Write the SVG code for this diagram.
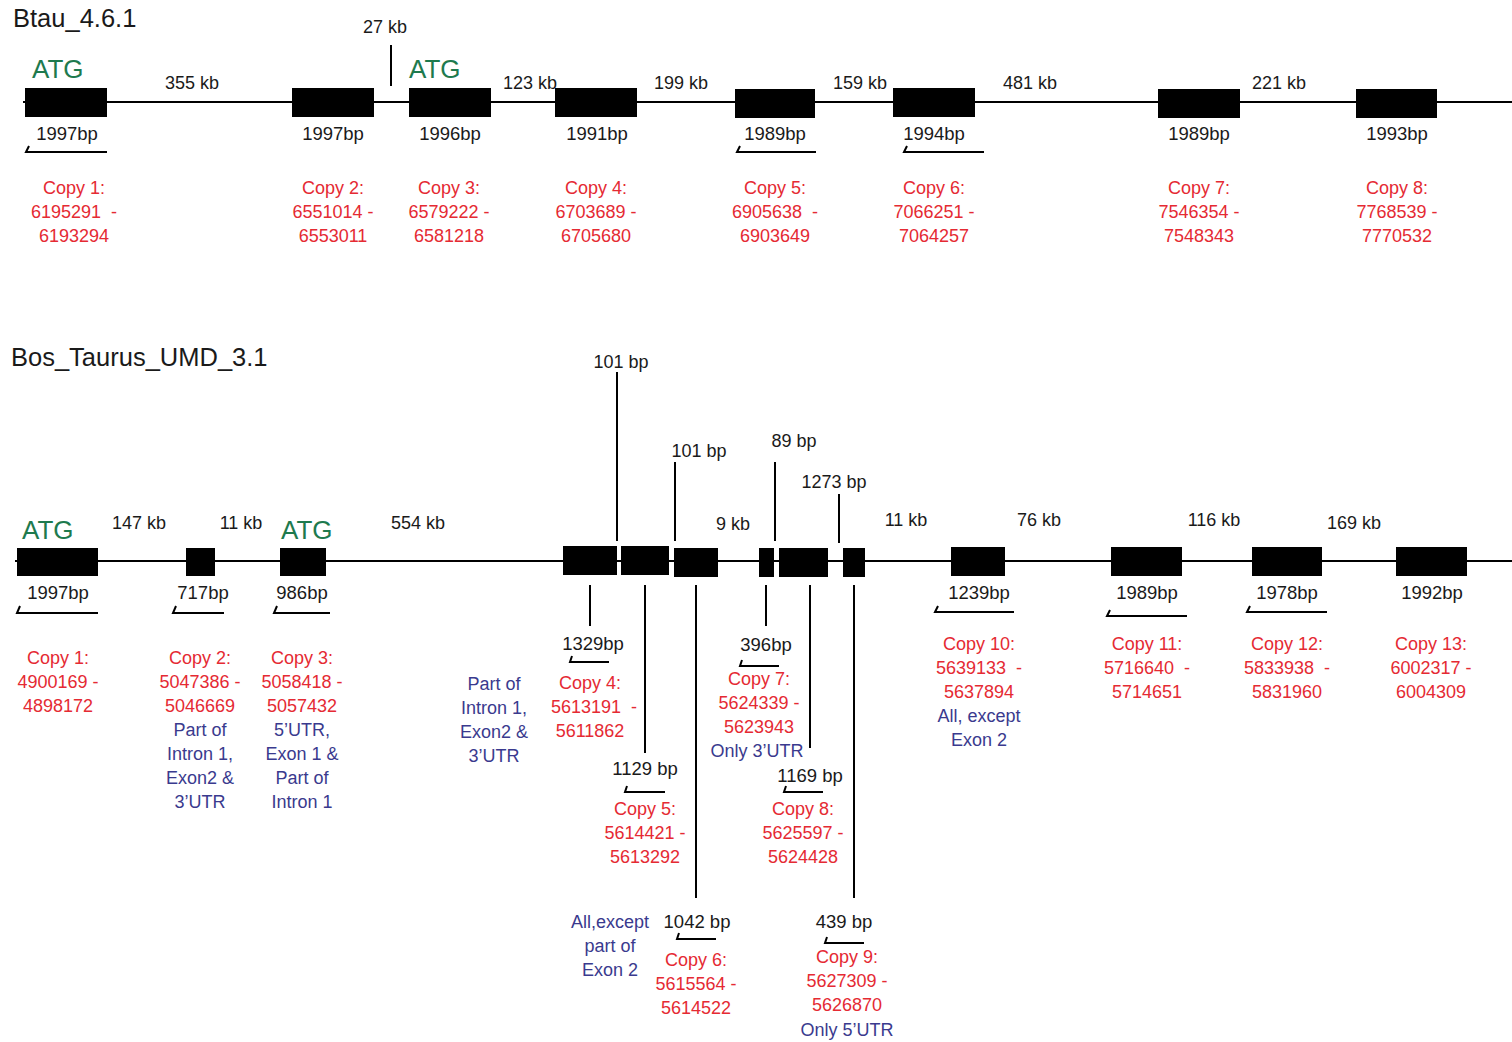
<svg xmlns="http://www.w3.org/2000/svg" width="1512" height="1042" viewBox="0 0 1512 1042">
<style>
text{font-family:"Liberation Sans",Arial,sans-serif;}
.t{font-size:25.5px;fill:#1a1a1a}
.atg{font-size:26px;fill:#1e7a4e}
.k{font-size:18px;fill:#1a1a1a}
.k2{font-size:18px;fill:#1a1a1a;text-anchor:middle}
.bp{font-size:18.5px;fill:#1a1a1a;text-anchor:middle}
.r{font-size:18px;fill:#e52a33;text-anchor:middle}
.b{font-size:18px;fill:#3a3a8e;text-anchor:middle}
.box{fill:#000}
.ln{stroke:#000;stroke-width:2;fill:none}
.br{stroke:#000;stroke-width:2;fill:none}
</style>
<rect width="1512" height="1042" fill="#fff"/>
<g id="connectors">
<line class="ln" x1="23" y1="102" x2="1512" y2="102"/>
<line class="ln" x1="391" y1="45" x2="391" y2="86"/>
<line class="ln" x1="15" y1="561" x2="1512" y2="561"/>
<line class="ln" x1="617" y1="372" x2="617" y2="541"/>
<line class="ln" x1="675" y1="462" x2="675" y2="541"/>
<line class="ln" x1="775" y1="462" x2="775" y2="541"/>
<line class="ln" x1="839" y1="494" x2="839" y2="543"/>
<line class="ln" x1="590" y1="585" x2="590" y2="626"/>
<line class="ln" x1="645" y1="585" x2="645" y2="753"/>
<line class="ln" x1="696" y1="585" x2="696" y2="898"/>
<line class="ln" x1="766" y1="585" x2="766" y2="626"/>
<line class="ln" x1="810" y1="585" x2="810" y2="748"/>
<line class="ln" x1="854" y1="585" x2="854" y2="898"/>
<text class="k2" x="192" y="89">355 kb</text>
<text class="k2" x="385" y="33">27 kb</text>
<text class="k2" x="530" y="89">123 kb</text>
<text class="k2" x="681" y="89">199 kb</text>
<text class="k2" x="860" y="89">159 kb</text>
<text class="k2" x="1030" y="89">481 kb</text>
<text class="k2" x="1279" y="89">221 kb</text>
<text class="k2" x="139" y="529">147 kb</text>
<text class="k2" x="241" y="529">11 kb</text>
<text class="k2" x="418" y="529">554 kb</text>
<text class="k2" x="733" y="530">9 kb</text>
<text class="k2" x="906" y="526">11 kb</text>
<text class="k2" x="1039" y="526">76 kb</text>
<text class="k2" x="1214" y="526">116 kb</text>
<text class="k2" x="1354" y="529">169 kb</text>
<text class="k2" x="621" y="368">101 bp</text>
<text class="k2" x="699" y="457">101 bp</text>
<text class="k2" x="794" y="447">89 bp</text>
<text class="k2" x="834" y="488">1273 bp</text>
</g>
<g id="titles">
<text class="t" x="13" y="27">Btau_4.6.1</text>
<text class="t" x="11" y="366">Bos_Taurus_UMD_3.1</text>
</g>
<!-- Btau_4.6.1 -->
<g id="top-copy1">
<text class="atg" x="32" y="78">ATG</text>
<rect class="box" x="25" y="88" width="82" height="29"/>
<text class="bp" x="67" y="140">1997bp</text>
<path class="br" d="M29,146 L26,152 L107,152"/>
<text class="r" x="74" y="194">Copy 1:</text>
<text class="r" x="74" y="218" xml:space="preserve">6195291  -</text>
<text class="r" x="74" y="242">6193294</text>
</g>
<g id="top-copy2">
<rect class="box" x="292" y="88" width="82" height="29"/>
<text class="bp" x="333" y="140">1997bp</text>
<text class="r" x="333" y="194">Copy 2:</text>
<text class="r" x="333" y="218">6551014 -</text>
<text class="r" x="333" y="242">6553011</text>
</g>
<g id="top-copy3">
<text class="atg" x="409" y="78">ATG</text>
<rect class="box" x="409" y="88" width="82" height="29"/>
<text class="bp" x="450" y="140">1996bp</text>
<text class="r" x="449" y="194">Copy 3:</text>
<text class="r" x="449" y="218">6579222 -</text>
<text class="r" x="449" y="242">6581218</text>
</g>
<g id="top-copy4">
<rect class="box" x="555" y="88" width="82" height="29"/>
<text class="bp" x="597" y="140">1991bp</text>
<text class="r" x="596" y="194">Copy 4:</text>
<text class="r" x="596" y="218">6703689 -</text>
<text class="r" x="596" y="242">6705680</text>
</g>
<g id="top-copy5">
<rect class="box" x="735" y="89" width="80" height="29"/>
<text class="bp" x="775" y="140">1989bp</text>
<path class="br" d="M740,146 L737,152 L816,152"/>
<text class="r" x="775" y="194" xml:space="preserve">Copy 5:</text>
<text class="r" x="775" y="218" xml:space="preserve">6905638  -</text>
<text class="r" x="775" y="242">6903649</text>
</g>
<g id="top-copy6">
<rect class="box" x="893" y="88" width="82" height="29"/>
<text class="bp" x="934" y="140">1994bp</text>
<path class="br" d="M907,146 L904,152 L984,152"/>
<text class="r" x="934" y="194">Copy 6:</text>
<text class="r" x="934" y="218">7066251 -</text>
<text class="r" x="934" y="242">7064257</text>
</g>
<g id="top-copy7">
<rect class="box" x="1158" y="89" width="82" height="29"/>
<text class="bp" x="1199" y="140">1989bp</text>
<text class="r" x="1199" y="194">Copy 7:</text>
<text class="r" x="1199" y="218">7546354 -</text>
<text class="r" x="1199" y="242">7548343</text>
</g>
<g id="top-copy8">
<rect class="box" x="1356" y="89" width="81" height="29"/>
<text class="bp" x="1397" y="140">1993bp</text>
<text class="r" x="1397" y="194">Copy 8:</text>
<text class="r" x="1397" y="218">7768539 -</text>
<text class="r" x="1397" y="242">7770532</text>
</g>
<!-- Bos_Taurus_UMD_3.1 -->
<g id="bot-copy1">
<text class="atg" x="22" y="539">ATG</text>
<rect class="box" x="17" y="548" width="81" height="28"/>
<text class="bp" x="58" y="599">1997bp</text>
<path class="br" d="M20,606 L17,613 L98,613"/>
<text class="r" x="58" y="664">Copy 1:</text>
<text class="r" x="58" y="688">4900169 -</text>
<text class="r" x="58" y="712">4898172</text>
</g>
<g id="bot-copy2">
<rect class="box" x="186" y="548" width="29" height="28"/>
<text class="bp" x="203" y="599">717bp</text>
<path class="br" d="M176,606 L173,613 L224,613"/>
<text class="r" x="200" y="664">Copy 2:</text>
<text class="r" x="200" y="688">5047386 -</text>
<text class="r" x="200" y="712">5046669</text>
<text class="b" x="200" y="736">Part of</text>
<text class="b" x="200" y="760">Intron 1,</text>
<text class="b" x="200" y="784">Exon2 &amp;</text>
<text class="b" x="200" y="808">3’UTR</text>
</g>
<g id="bot-copy3">
<text class="atg" x="281" y="539">ATG</text>
<rect class="box" x="280" y="548" width="46" height="28"/>
<text class="bp" x="302" y="599">986bp</text>
<path class="br" d="M277,606 L274,613 L330,613"/>
<text class="r" x="302" y="664">Copy 3:</text>
<text class="r" x="302" y="688">5058418 -</text>
<text class="r" x="302" y="712">5057432</text>
<text class="b" x="302" y="736">5’UTR,</text>
<text class="b" x="302" y="760">Exon 1 &amp;</text>
<text class="b" x="302" y="784">Part of</text>
<text class="b" x="302" y="808">Intron 1</text>
</g>
<g id="bot-copy4">
<rect class="box" x="563" y="546" width="54" height="29"/>
<text class="bp" x="593" y="650">1329bp</text>
<path class="br" d="M572,656 L570,662 L609,662"/>
<text class="r" x="590" y="689">Copy 4:</text>
<text class="r" x="594" y="713" xml:space="preserve">5613191  -</text>
<text class="r" x="590" y="737">5611862</text>
<text class="b" x="494" y="690">Part of</text>
<text class="b" x="494" y="714">Intron 1,</text>
<text class="b" x="494" y="738">Exon2 &amp;</text>
<text class="b" x="494" y="762">3’UTR</text>
</g>
<g id="bot-copy5">
<rect class="box" x="621" y="546" width="48" height="29"/>
<text class="bp" x="645" y="775">1129 bp</text>
<path class="br" d="M627,786 L625,792 L665,792"/>
<text class="r" x="645" y="815">Copy 5:</text>
<text class="r" x="645" y="839">5614421 -</text>
<text class="r" x="645" y="863">5613292</text>
</g>
<g id="bot-copy6">
<rect class="box" x="674" y="548" width="44" height="29"/>
<text class="bp" x="697" y="928">1042 bp</text>
<path class="br" d="M679,933 L677,939 L716,939"/>
<text class="r" x="696" y="966">Copy 6:</text>
<text class="r" x="696" y="990">5615564 -</text>
<text class="r" x="696" y="1014">5614522</text>
<text class="b" x="610" y="928">All,except</text>
<text class="b" x="610" y="952">part of</text>
<text class="b" x="610" y="976">Exon 2</text>
</g>
<g id="bot-copy7">
<rect class="box" x="759" y="548" width="15" height="29"/>
<text class="bp" x="766" y="651">396bp</text>
<path class="br" d="M742,660 L740,666 L779,666"/>
<text class="r" x="759" y="685">Copy 7:</text>
<text class="r" x="759" y="709">5624339 -</text>
<text class="r" x="759" y="733">5623943</text>
<text class="b" x="757" y="757">Only 3’UTR</text>
</g>
<g id="bot-copy8">
<rect class="box" x="779" y="548" width="49" height="29"/>
<text class="bp" x="810" y="782">1169 bp</text>
<path class="br" d="M786,786 L784,792 L823,792"/>
<text class="r" x="803" y="815">Copy 8:</text>
<text class="r" x="803" y="839">5625597 -</text>
<text class="r" x="803" y="863">5624428</text>
</g>
<g id="bot-copy9">
<rect class="box" x="843" y="548" width="22" height="29"/>
<text class="bp" x="844" y="928">439 bp</text>
<path class="br" d="M827,937 L825,943 L864,943"/>
<text class="r" x="847" y="963">Copy 9:</text>
<text class="r" x="847" y="987">5627309 -</text>
<text class="r" x="847" y="1011">5626870</text>
<text class="b" x="847" y="1036">Only 5’UTR</text>
</g>
<g id="bot-copy10">
<rect class="box" x="951" y="547" width="54" height="29"/>
<text class="bp" x="979" y="599">1239bp</text>
<path class="br" d="M938,606 L935,612 L1014,612"/>
<text class="r" x="979" y="650">Copy 10:</text>
<text class="r" x="979" y="674" xml:space="preserve">5639133  -</text>
<text class="r" x="979" y="698">5637894</text>
<text class="b" x="979" y="722">All, except</text>
<text class="b" x="979" y="746">Exon 2</text>
</g>
<g id="bot-copy11">
<rect class="box" x="1111" y="547" width="71" height="29"/>
<text class="bp" x="1147" y="599">1989bp</text>
<path class="br" d="M1110,610 L1107,616 L1187,616"/>
<text class="r" x="1147" y="650">Copy 11:</text>
<text class="r" x="1147" y="674" xml:space="preserve">5716640  -</text>
<text class="r" x="1147" y="698">5714651</text>
</g>
<g id="bot-copy12">
<rect class="box" x="1252" y="547" width="70" height="29"/>
<text class="bp" x="1287" y="599">1978bp</text>
<path class="br" d="M1250,606 L1247,612 L1327,612"/>
<text class="r" x="1287" y="650">Copy 12:</text>
<text class="r" x="1287" y="674" xml:space="preserve">5833938  -</text>
<text class="r" x="1287" y="698">5831960</text>
</g>
<g id="bot-copy13">
<rect class="box" x="1396" y="547" width="71" height="29"/>
<text class="bp" x="1432" y="599">1992bp</text>
<text class="r" x="1431" y="650">Copy 13:</text>
<text class="r" x="1431" y="674">6002317 -</text>
<text class="r" x="1431" y="698">6004309</text>
</g>
</svg>
